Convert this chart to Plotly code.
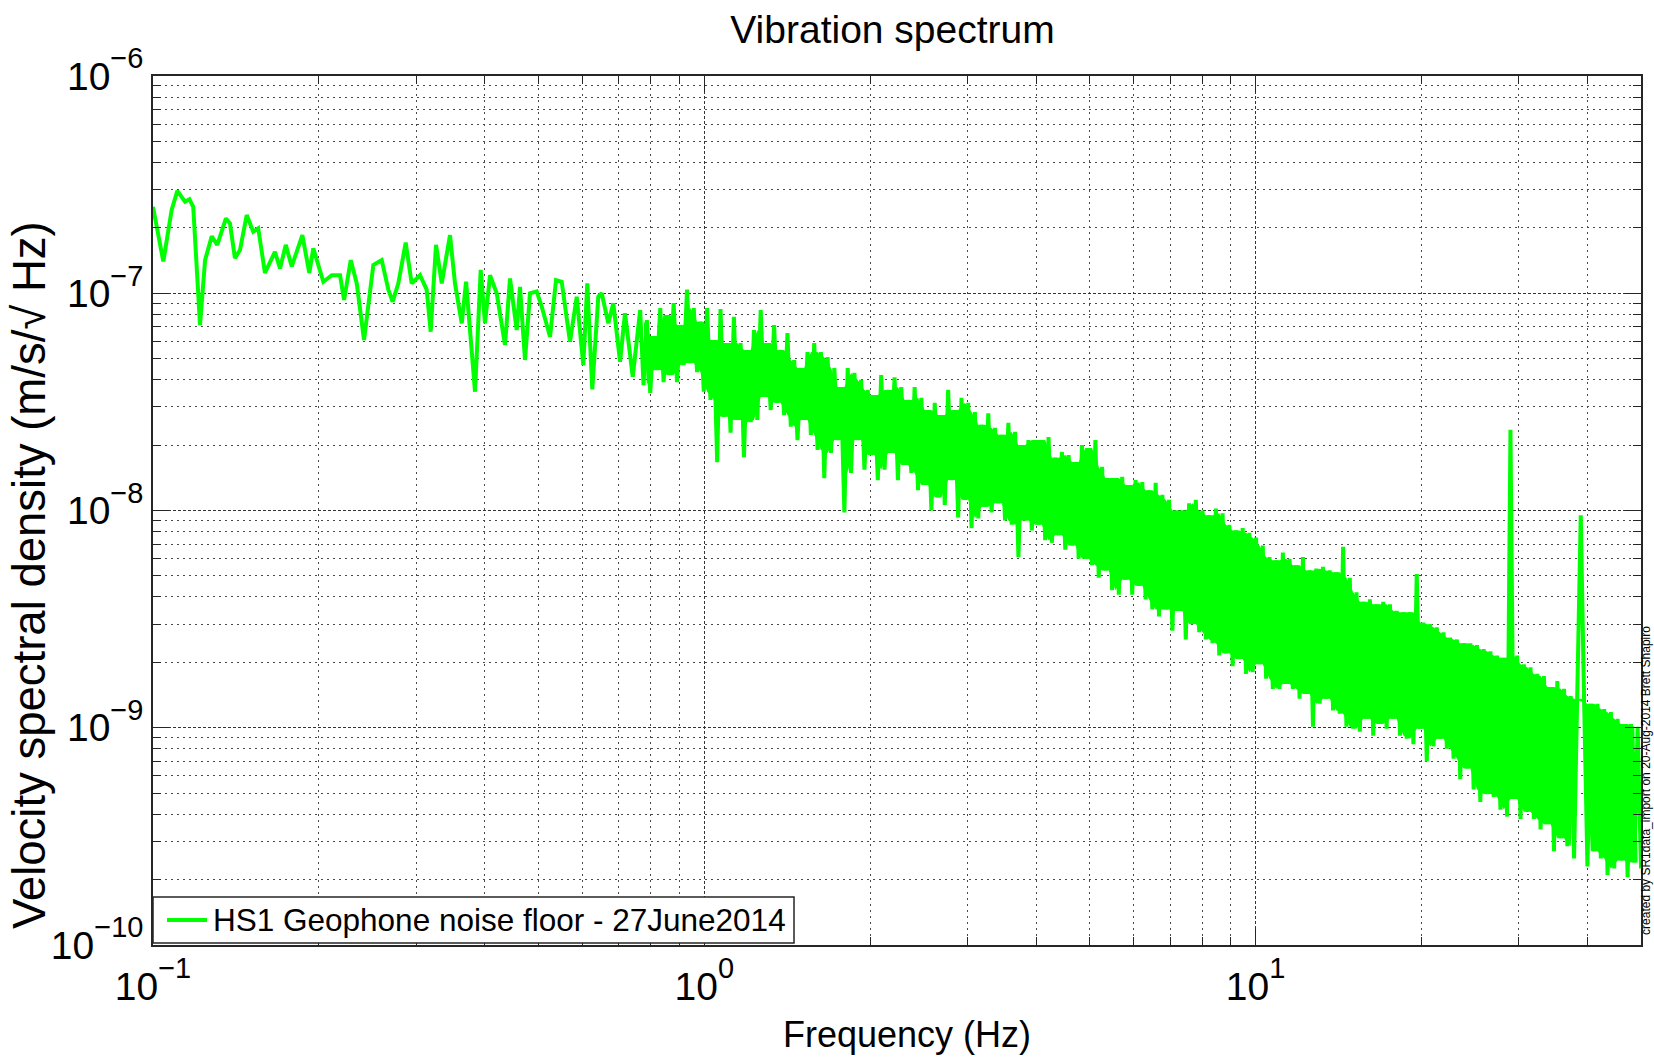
import numpy as np
import plotly.graph_objects as go

# ---------------- data ----------------
# low-frequency part: individual features (Hz, m/s/sqrt(Hz))
low_freq_hz = [0.1, 0.1044, 0.1081, 0.1107, 0.1143, 0.1164, 0.1183, 0.1217, 0.1243, 0.1278,
               0.1308, 0.1356, 0.1379, 0.1408, 0.1438, 0.1479, 0.1520, 0.1552, 0.1596, 0.1664,
               0.1700, 0.1741, 0.1785, 0.1866, 0.1921, 0.1953, 0.2037, 0.2110, 0.2184, 0.2221,
               0.2284, 0.2342, 0.2414, 0.2510, 0.2599, 0.2672, 0.2721, 0.2786, 0.2873, 0.2946,
               0.3050, 0.3136, 0.3189, 0.3261, 0.3340, 0.3457, 0.3530, 0.3631, 0.3697, 0.3838,
               0.3930, 0.4001, 0.4086, 0.4202, 0.4350, 0.4442, 0.4568, 0.4631, 0.4729, 0.4828,
               0.4965, 0.5072, 0.5250, 0.5383, 0.5512, 0.5706, 0.5869, 0.6032, 0.6134, 0.6263,
               0.6422, 0.6515, 0.6697, 0.6838, 0.7033, 0.7180, 0.7416, 0.7592]
low_vsd = [2.50e-7, 1.40e-7, 2.42e-7, 2.96e-7, 2.64e-7, 2.71e-7, 2.50e-7, 7.14e-8, 1.42e-7, 1.83e-7,
           1.67e-7, 2.21e-7, 2.10e-7, 1.45e-7, 1.58e-7, 2.29e-7, 1.92e-7, 1.99e-7, 1.24e-7, 1.55e-7,
           1.30e-7, 1.67e-7, 1.33e-7, 1.85e-7, 1.24e-7, 1.61e-7, 1.13e-7, 1.21e-7, 1.21e-7, 9.31e-8,
           1.42e-7, 1.11e-7, 6.09e-8, 1.35e-7, 1.42e-7, 1.04e-7, 9.14e-8, 1.11e-7, 1.71e-7, 1.11e-7,
           1.21e-7, 1.04e-7, 6.65e-8, 1.67e-7, 1.11e-7, 1.85e-7, 1.11e-7, 7.27e-8, 1.13e-7, 3.52e-8,
           1.28e-7, 7.27e-8, 1.21e-7, 1.00e-7, 5.78e-8, 1.17e-7, 6.77e-8, 1.07e-7, 4.93e-8, 1.00e-7,
           1.02e-7, 8.67e-8, 6.31e-8, 1.15e-7, 1.13e-7, 5.98e-8, 9.64e-8, 4.67e-8, 1.11e-7, 3.61e-8,
           9.64e-8, 1.00e-7, 7.27e-8, 8.99e-8, 4.84e-8, 8.09e-8, 4.13e-8, 7.53e-8]

# dense part (0.765 - 50 Hz): alternating local maxima / minima of the spectrum
band_f_start_hz = 0.765
band_f_stop_hz = 50.0
band_peak_vsd = [
    8.37e-8, 7.53e-8, 6.35e-8, 8.55e-8, 7.94e-8, 9.0e-8, 7.14e-8, 1.04e-7, 8.55e-8, 7.4e-8,
    8.55e-8, 6.09e-8, 8.46e-8, 5.9e-8, 7.8e-8, 5.9e-8, 5.48e-8, 6.77e-8, 8.37e-8, 5.9e-8,
    7.14e-8, 5.48e-8, 6.56e-8, 4.93e-8, 4.53e-8, 5.36e-8, 5.9e-8, 5.36e-8, 5.08e-8, 4.53e-8,
    3.7e-8, 4.53e-8, 4.3e-8, 3.99e-8, 3.59e-8, 3.4e-8, 4.2e-8, 3.59e-8, 4.1e-8, 3.7e-8,
    3.23e-8, 3.7e-8, 3.3e-8, 2.9e-8, 3.13e-8, 2.75e-8, 3.59e-8, 2.9e-8, 3.3e-8, 3.13e-8,
    2.84e-8, 2.48e-8, 2.8e-8, 2.4e-8, 2.23e-8, 2.53e-8, 2.3e-8, 2.0e-8, 2.11e-8, 2.11e-8,
    2.11e-8, 2.18e-8, 1.75e-8, 1.86e-8, 1.8e-8, 1.67e-8, 2.0e-8, 1.94e-8, 2.11e-8, 1.59e-8,
    1.41e-8, 1.41e-8, 1.43e-8, 1.31e-8, 1.38e-8, 1.35e-8, 1.24e-8, 1.34e-8, 1.18e-8, 1.12e-8,
    1.0e-8, 1.0e-8, 1.08e-8, 1.12e-8, 1.0e-8, 9.5e-9, 1.02e-8, 9.7e-9, 8.6e-9, 8.1e-9,
    8.3e-9, 7.9e-9, 7.5e-9, 6.9e-9, 6.1e-9, 5.9e-9, 6.4e-9, 6.0e-9, 5.6e-9, 6.1e-9,
    5.3e-9, 5.4e-9, 5.5e-9, 5.3e-9, 5.2e-9, 6.8e-9, 4.9e-9, 4.2e-9, 3.8e-9, 3.9e-9,
    3.7e-9, 3.8e-9, 3.7e-9, 3.45e-9, 3.4e-9, 3.4e-9, 5.1e-9, 3.05e-9, 3.0e-9, 2.9e-9,
    2.75e-9, 2.6e-9, 2.55e-9, 2.45e-9, 2.45e-9, 2.4e-9, 2.3e-9, 2.25e-9, 2.15e-9, 2.1e-9,
    2.35e-8, 2.15e-9, 1.96e-9, 1.9e-9, 1.77e-9, 1.73e-9, 1.54e-9, 1.64e-9, 1.51e-9, 1.4e-9,
    1.36e-9, 1.33e-9, 1.29e-9, 1.29e-9, 1.22e-9, 1.18e-9, 1.1e-9, 1.04e-9, 1.04e-9, 1.01e-9]
band_trough_vsd = [
    3.78e-8, 3.48e-8, 4.43e-8, 3.9e-8, 4.2e-8, 3.9e-8, 4.67e-8, 4.77e-8, 4.33e-8, 3.52e-8,
    3.23e-8, 1.67e-8, 2.7e-8, 2.28e-8, 2.61e-8, 1.76e-8, 2.55e-8, 2.61e-8, 3.33e-8, 2.9e-8,
    3.13e-8, 2.75e-8, 2.43e-8, 2.11e-8, 2.61e-8, 2.23e-8, 1.9e-8, 1.41e-8, 1.84e-8, 2.11e-8,
    9.8e-9, 1.49e-8, 2.11e-8, 1.54e-8, 1.8e-8, 1.38e-8, 1.54e-8, 1.84e-8, 1.38e-8, 1.62e-8,
    1.49e-8, 1.24e-8, 1.31e-8, 1.0e-8, 1.15e-8, 1.06e-8, 1.38e-8, 9.3e-9, 1.12e-8, 8.3e-9,
    9.2e-9, 1.04e-8, 9.8e-9, 1.08e-8, 9.0e-9, 8.6e-9, 6.1e-9, 9.0e-9, 8.1e-9, 8.6e-9,
    7.3e-9, 7.1e-9, 7.7e-9, 6.6e-9, 6.9e-9, 6.0e-9, 6.0e-9, 5.6e-9, 4.9e-9, 5.3e-9,
    4.3e-9, 4.1e-9, 4.8e-9, 4.1e-9, 4.5e-9, 3.9e-9, 3.5e-9, 3.25e-9, 3.5e-9, 2.8e-9,
    3.45e-9, 2.55e-9, 3.0e-9, 2.75e-9, 2.55e-9, 2.45e-9, 2.15e-9, 2.2e-9, 1.92e-9, 2.07e-9,
    1.77e-9, 1.8e-9, 1.96e-9, 1.68e-9, 1.51e-9, 1.51e-9, 1.59e-9, 1.51e-9, 1.36e-9, 1.43e-9,
    1.01e-9, 1.29e-9, 1.36e-9, 1.2e-9, 1.16e-9, 1.01e-9, 9.9e-10, 9.6e-10, 1.1e-9, 9.2e-10,
    1.04e-9, 9.9e-10, 1.1e-9, 9.2e-10, 8.9e-10, 8.4e-10, 9.9e-10, 7.0e-10, 8.2e-10, 8.9e-10,
    8.0e-10, 7.2e-10, 5.8e-10, 6.5e-10, 5.2e-10, 4.55e-10, 4.95e-10, 4.8e-10, 4.2e-10, 3.9e-10,
    4.7e-10, 3.8e-10, 4.1e-10, 3.8e-10, 3.4e-10, 3.6e-10, 2.7e-10, 3.1e-10, 2.85e-10, 2.5e-10,
    9.5e-9, 2.3e-10, 2.7e-10, 2.5e-10, 2.1e-10, 2.25e-10, 2.45e-10, 2.05e-10, 2.4e-10, 2.25e-10]

series_name = "HS1 Geophone noise floor - 27June2014"

x_major_vals = [0.1, 1, 10]
x_major_exp = ["\u22121", "0", "1"]
x_minor_vals = [0.2, 0.3, 0.4, 0.5, 0.6, 0.7, 0.8, 0.9, 2, 3, 4, 5, 6, 7, 8, 9, 20, 30, 40]
y_major_vals = [1e-10, 1e-9, 1e-8, 1e-7, 1e-6]
y_major_exp = ["\u221210", "\u22129", "\u22128", "\u22127", "\u22126"]
y_minor_vals = [m * 10.0 ** e for e in (-10, -9, -8, -7) for m in range(2, 10)]


def pow_label(exp):
    return ("10<sup><span style=\"font-size:29px;baseline-shift:5px\">"
            + exp + "</span></sup>")


# ---------------- assemble ----------------
n_pairs = len(band_peak_vsd)
band_freq = np.geomspace(band_f_start_hz, band_f_stop_hz, 2 * n_pairs)
pk = np.array(band_peak_vsd)
tr = np.array(band_trough_vsd)
band_vsd = np.empty(2 * n_pairs)
band_vsd[0::2] = pk
band_vsd[1::2] = tr
freq = np.concatenate([low_freq_hz, band_freq])
vsd = np.concatenate([low_vsd, band_vsd])

# solid body of the dense spectrum (region covered between neighbouring extrema)
fp = band_freq[0::2]
ft = band_freq[1::2]
tr_body = np.minimum(tr, pk)
body_top = np.minimum(pk[:-1], pk[1:])
body_bot = np.maximum(tr_body[:-1], tr_body[1:])
body_x = np.concatenate([ft[:-1], fp[1:][::-1]])
body_y = np.concatenate([body_top, body_bot[::-1]])

FONT = "Liberation Sans, Arial, Helvetica, sans-serif"
AX = "#262626"
GREEN = "#00ff00"

fig = go.Figure()
fig.add_trace(go.Scatter(x=body_x, y=body_y, mode="lines", fill="toself",
                         fillcolor=GREEN, line=dict(width=0, color=GREEN),
                         showlegend=False, hoverinfo="skip"))
fig.add_trace(go.Scatter(x=freq, y=vsd, mode="lines", name=series_name,
                         line=dict(color=GREEN, width=4), showlegend=False))

axis_common = dict(
    type="log", showline=True, linecolor=AX, linewidth=1.5, mirror="ticks",
    ticks="inside", ticklen=16, tickwidth=1.3, tickcolor=AX,
    showgrid=True, gridcolor="#333333", gridwidth=1, griddash="3px,2px",
    tickfont=dict(family=FONT, size=39, color="black"),
    zeroline=False, tickmode="array",
)
minor_common = dict(tickmode="array", ticks="inside", ticklen=8, tickwidth=1.2,
                    tickcolor=AX, showgrid=True, gridcolor="#4a4a4a", gridwidth=1,
                    griddash="1.5px,4.5px")

fig.update_xaxes(
    **axis_common,
    range=[-1, np.log10(50)],
    tickvals=x_major_vals, ticktext=[pow_label(e) for e in x_major_exp],
    ticklabelstandoff=6,
    minor=dict(tickvals=x_minor_vals, **minor_common),
)
fig.update_yaxes(
    **axis_common,
    range=[-10, -6],
    tickvals=y_major_vals, ticktext=[pow_label(e) for e in y_major_exp],
    ticklabelstandoff=0,
    minor=dict(tickvals=y_minor_vals, **minor_common),
)

# legend box drawn in plot-area (paper) coordinates
PW, PH = 1488.0, 869.0
leg_x0, leg_x1 = 0.0, (794 - 153) / PW
leg_y0, leg_y1 = (945 - 943) / PH, (945 - 897) / PH
leg_mid = (leg_y0 + leg_y1) / 2

fig.update_layout(
    width=1654, height=1057,
    margin=dict(l=153, r=13, t=76, b=112),
    paper_bgcolor="white", plot_bgcolor="white",
    font=dict(family=FONT, color="black"),
    title=dict(text="Vibration spectrum", x=0.497, xref="paper", xanchor="center",
               y=1 - 29 / 1057, yref="container", yanchor="middle",
               font=dict(family=FONT, size=39, color="black")),
    showlegend=False,
    shapes=[
        dict(type="rect", xref="paper", yref="paper", x0=leg_x0, x1=leg_x1,
             y0=leg_y0, y1=leg_y1, fillcolor="white",
             line=dict(color=AX, width=1.5), layer="above"),
        dict(type="line", xref="paper", yref="paper", x0=14 / PW, x1=54 / PW,
             y0=leg_mid, y1=leg_mid, line=dict(color=GREEN, width=4), layer="above"),
    ],
    annotations=[
        dict(text=series_name, xref="paper", yref="paper", x=58 / PW, y=leg_mid,
             xanchor="left", yanchor="middle", showarrow=False,
             font=dict(family=FONT, size=31.5, color="black")),
        dict(text="Frequency (Hz)", xref="paper", yref="paper",
             x=(907 - 153) / PW, y=(945 - 1034) / PH,
             xanchor="center", yanchor="middle", showarrow=False,
             font=dict(family=FONT, size=36, color="black")),
        dict(text="Velocity spectral density (m/s/\u221a Hz)", xref="paper", yref="paper",
             x=(29 - 153) / PW, y=(945 - 575) / PH, textangle=-90,
             xanchor="center", yanchor="middle", showarrow=False,
             font=dict(family=FONT, size=45.5, color="black")),
        dict(text="created by SR1data_import on 20-Aug-2014 Brett Shapiro",
             xref="paper", yref="paper", x=1.0035, y=0.189,
             xanchor="center", yanchor="middle", textangle=-90, showarrow=False,
             font=dict(family=FONT, size=12, color="black")),
    ],
)

fig.write_html("out.html")
